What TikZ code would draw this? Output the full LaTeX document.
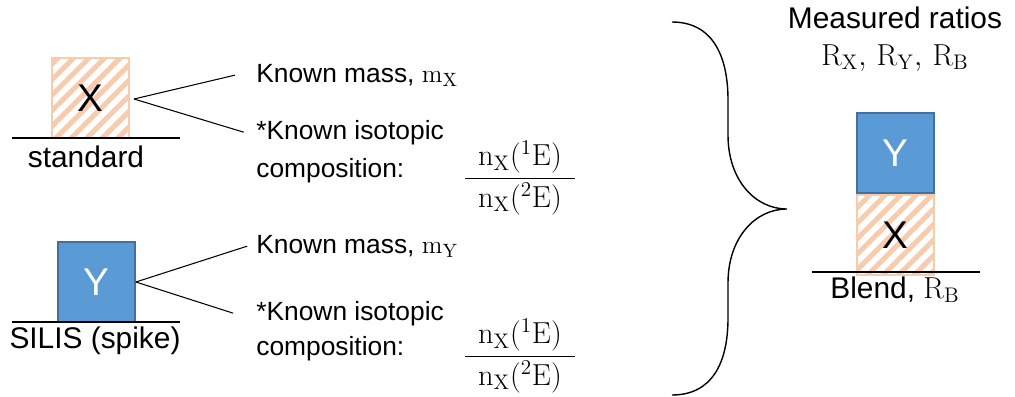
\documentclass[tikz,border=0pt]{standalone}
\usepackage[no-math]{fontspec}
\setmainfont{Liberation Sans}
\setmathrm{Liberation Serif}
\usetikzlibrary{positioning, patterns.meta}
\definecolor{spikeblue}{HTML}{5B9BD5}
\definecolor{spikeedge}{HTML}{41719C}
\definecolor{stdpeach}{HTML}{F8CBAD}
\newcommand{\isofrac}{$\displaystyle\frac{\makebox[2.2cm]{$\mathrm{n_X(^1E)}$}}{\makebox[2.2cm]{$\mathrm{n_X(^2E)}$}}$}

\begin{document}
\begin{tikzpicture}[x=0.02cm, y=-0.02cm,
    sample/.style={rectangle, minimum width=1.54cm, minimum height=1.6cm, inner sep=0pt, font=\fontsize{22}{26}\selectfont},
    stdsample/.style={sample, draw=stdpeach, line width=1pt, pattern={Lines[angle=45, distance=0.22cm, line width=0.1cm]}, pattern color=stdpeach},
    spikesample/.style={sample, draw=spikeedge, line width=1pt, fill=spikeblue, text=white},
    label/.style={inner sep=0pt, font=\fontsize{17}{20}\selectfont},
    note/.style={inner sep=0pt, font=\fontsize{15}{18}\selectfont, anchor=base west},
    thin/.style={line width=0.6pt}]
  \fill[white] (0,0) rectangle (1015,396);
  \useasboundingbox (0,0) rectangle (1015,396);

  % standard X
  \node[stdsample] (stdbox) at (90.5,98) {X};
  \draw[thin] (12,138) -- (180,138);
  \node[label, anchor=base] (stdlabel) at (86,167) {standard};
  \node[note] (stdmass) at (256,82) {Known mass, $\mathrm{m_X}$};
  \node[note] (stdiso) at (256,139) {*Known isotopic};
  \node[note] (stdcomp) at (256,177) {composition:};
  \node[inner sep=0pt, font=\fontsize{17}{20}\selectfont] (stdfrac) at (520,178) {\isofrac};
  \coordinate (stdtip) at (134,99);
  \draw[thin] (stdtip) -- ([xshift=-12pt]stdmass.west);
  \draw[thin] (stdtip) -- ([xshift=-7pt]stdiso.west);

  % spike Y
  \node[spikesample] (spikebox) at (96.5,282) {Y};
  \draw[thin] (12,322) -- (180,322);
  \node[label, anchor=base] (spikelabel) at (95,348) {SILIS (spike)};
  \node[note] (spikemass) at (256,253) {Known mass, $\mathrm{m_Y}$};
  \node[note] (spikeiso) at (256,320) {*Known isotopic};
  \node[note] (spikecomp) at (256,355) {composition:};
  \node[inner sep=0pt, font=\fontsize{17}{20}\selectfont] (spikefrac) at (520,356) {\isofrac};
  \draw[thin] (spikebox.east) -- ([xshift=-5pt]spikemass.west);
  \draw[thin] (spikebox.east) -- ([xshift=-13pt]spikeiso.west);

  % brace
  \draw[line width=0.8pt] (672,22) .. controls (712,22) and (728,55) .. (728,100) -- (728,135)
    .. controls (728,180) and (755,209) .. (787,209)
    .. controls (755,209) and (728,238) .. (728,283) -- (728,318)
    .. controls (728,363) and (712,395) .. (672,395);

  % blend
  \node[label, anchor=base] (ratiotitle) at (895,28) {Measured ratios};
  \node[label, anchor=base] (ratiolist) at (895,65) {$\mathrm{R_X,\,R_Y,\,R_B}$};
  \node[spikesample] (blendY) at (895.5,153) {Y};
  \node[stdsample, below=0pt of blendY] (blendX) {X};
  \draw[thin] (812,272) -- (980,272);
  \node[label, anchor=base] (blendlabel) at (895,298) {Blend, $\mathrm{R_B}$};
\end{tikzpicture}
\end{document}
